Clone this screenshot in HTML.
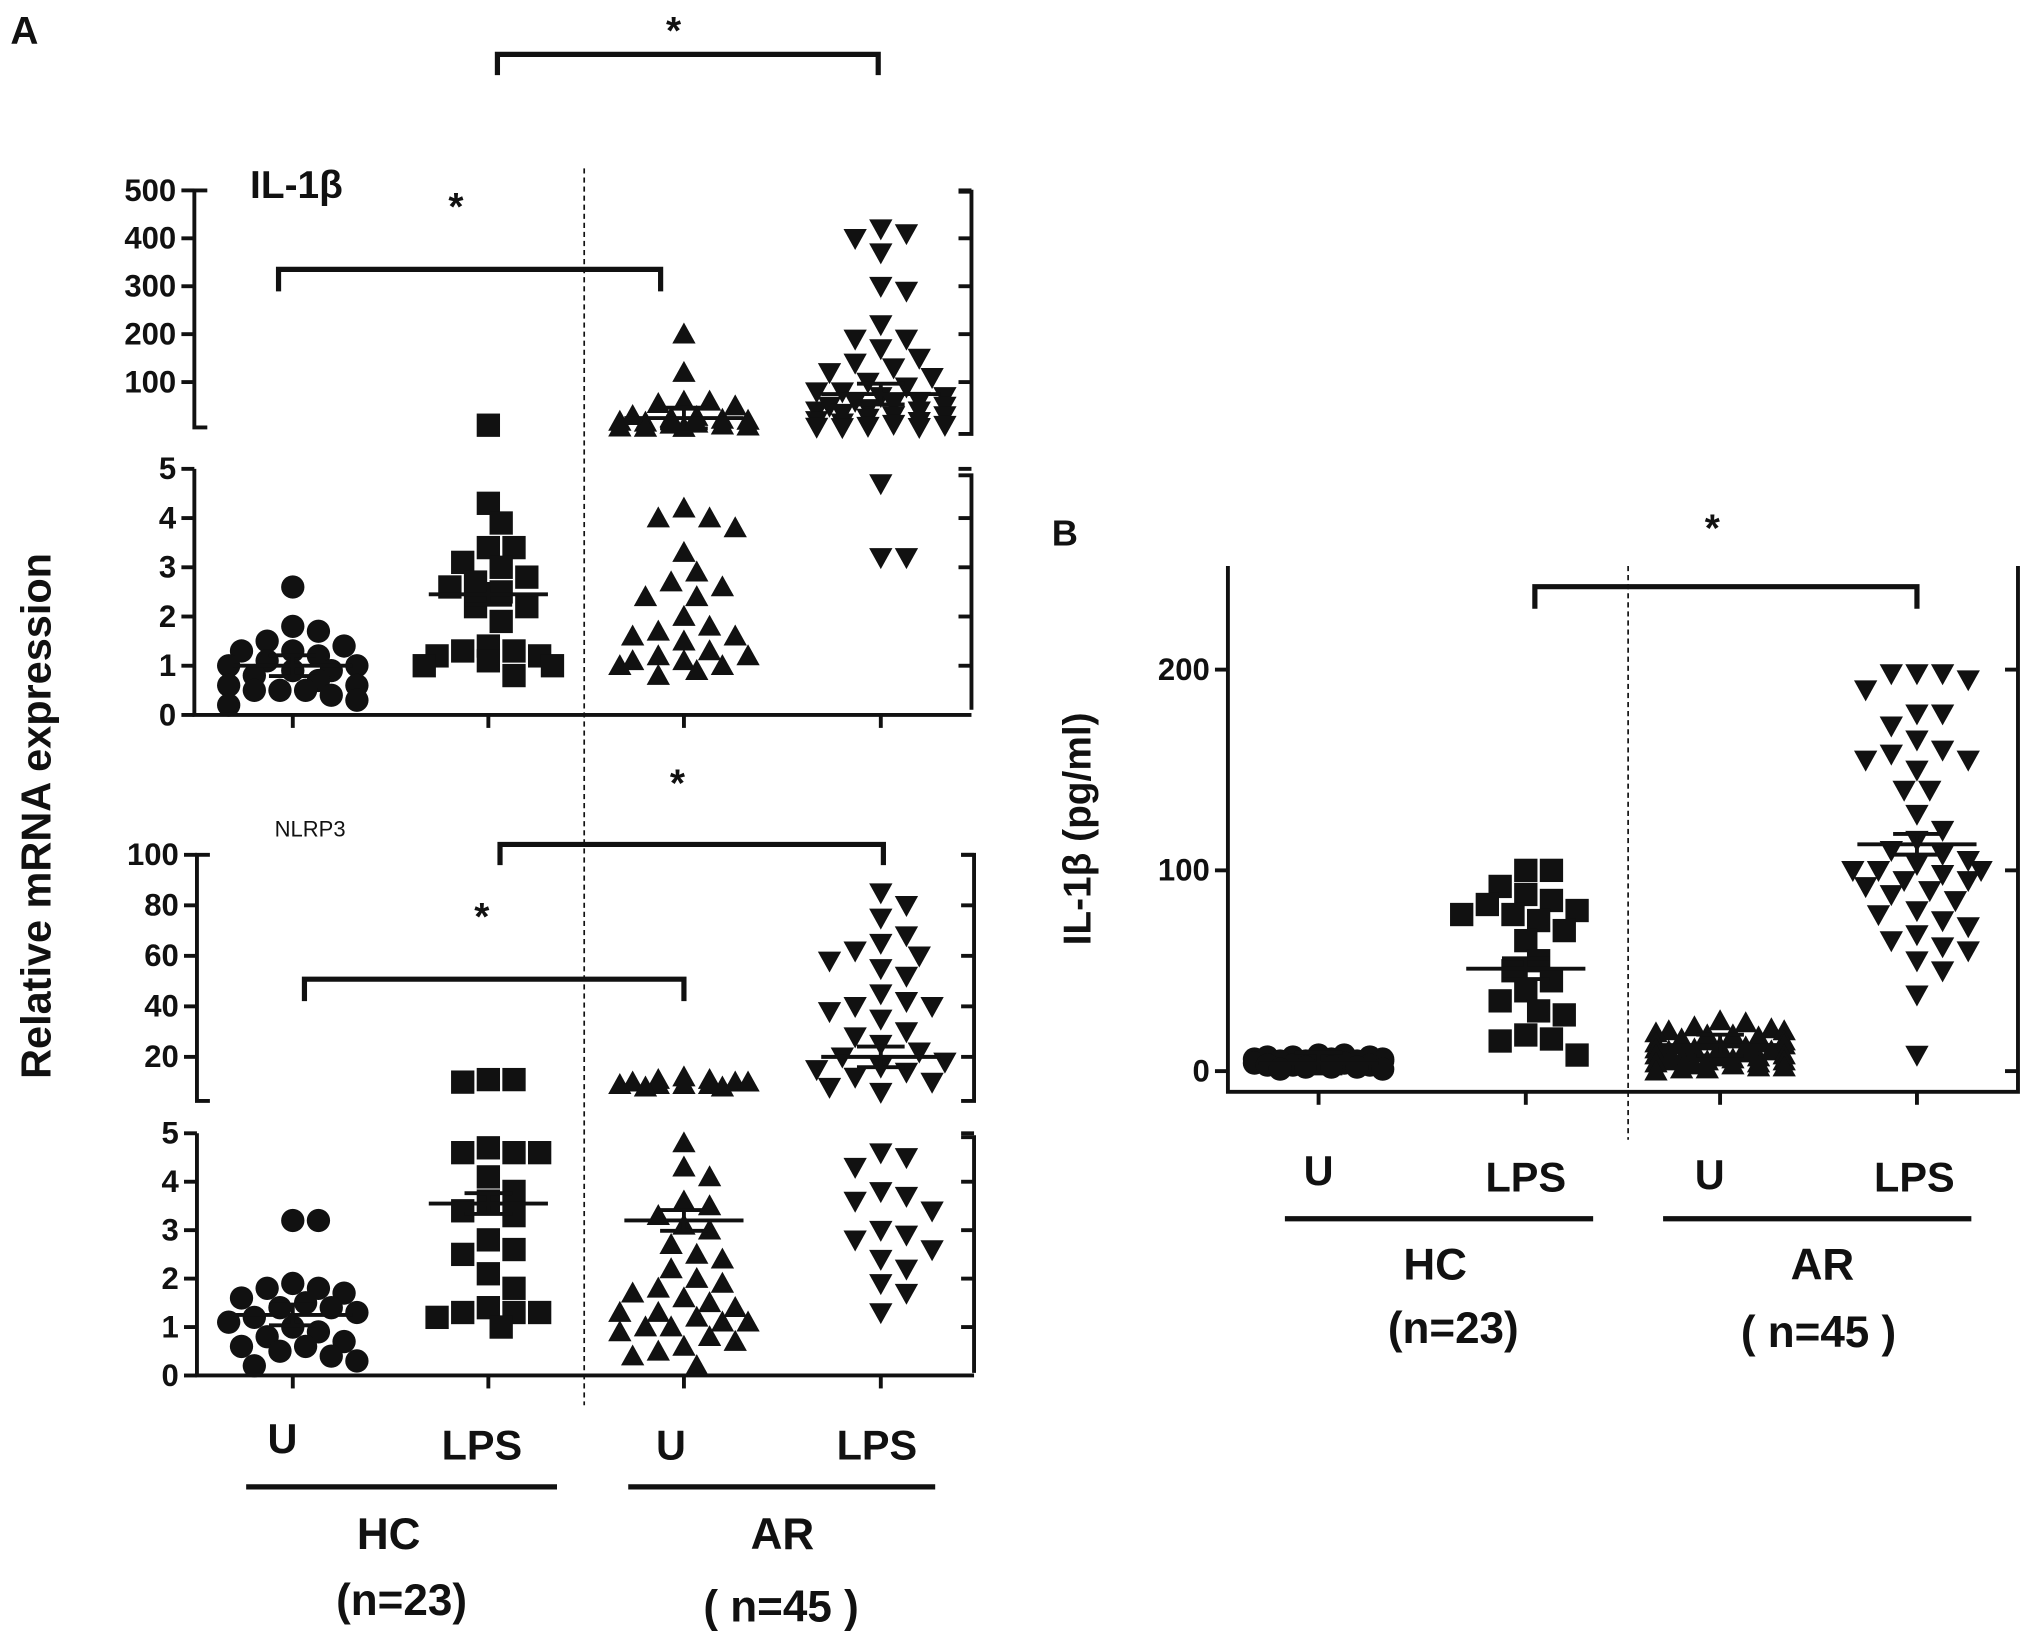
<!DOCTYPE html>
<html><head><meta charset="utf-8"><style>
html,body{margin:0;padding:0;background:#fff}
svg{display:block}
text{font-family:"Liberation Sans",sans-serif;font-weight:bold;fill:#111}
</style></head><body>
<svg id="fig" width="2031" height="1641" viewBox="0 0 1568 1267" xmlns="http://www.w3.org/2000/svg">
<g id="static" stroke="#111" fill="none" stroke-width="3">
  <path d="M160,147 H150 V330 H160"/>
  <path d="M150,362 V552 H750"/>
  <path d="M740,148 H750 V335 H740"/>
  <path d="M740,367 H750 V548"/>
  <path d="M162,660 H152 V850 H162"/>
  <path d="M152,875 V1062 H752"/>
  <path d="M742,660 H752 V850 H742"/>
  <path d="M742,878 H752 V1060"/>
  <path d="M948,437 V843 H1558 V437"/>
  <g stroke-width="4">
  <path d="M384,58 V42 H678 V58"/>
  <path d="M215,225 V208 H510 V225"/>
  <path d="M386,668 V652 H682 V668"/>
  <path d="M235,773 V756 H528 V773"/>
  <path d="M1185,470 V453 H1480 V470"/>
  </g>
  <path d="M190,1148 H430" stroke-width="4"/>
  <path d="M485,1148 H722" stroke-width="4"/>
  <path d="M992,941 H1230" stroke-width="4"/>
  <path d="M1284,941 H1522" stroke-width="4"/>
  <path d="M451,130 V1085" stroke-width="1.3" stroke-dasharray="4,3"/>
  <path d="M1257,437 V880" stroke-width="1.3" stroke-dasharray="4,3"/>
</g>
<g id="ticks" stroke="#111" stroke-width="3"></g>
<g id="labels"></g>
<g id="marks" fill="#111" stroke="none"></g>
<g id="texts">
  <text x="8" y="34" font-size="30">A</text>
  <text x="812" y="421" font-size="28">B</text>
  <text x="193" y="153" font-size="30">IL-1β</text>
  <text x="212" y="646" font-size="17" style="font-weight:normal">NLRP3</text>
  <text x="520" y="34" font-size="30" text-anchor="middle">*</text>
  <text x="352" y="170" font-size="30" text-anchor="middle">*</text>
  <text x="523" y="615" font-size="30" text-anchor="middle">*</text>
  <text x="372" y="718" font-size="30" text-anchor="middle">*</text>
  <text x="1322" y="418" font-size="30" text-anchor="middle">*</text>
  <text transform="translate(39,630) rotate(-90)" font-size="32" text-anchor="middle">Relative mRNA expression</text>
  <text transform="translate(842,640) rotate(-90)" font-size="30" text-anchor="middle">IL-1β  (pg/ml)</text>
  <text x="218" y="1122" font-size="32" text-anchor="middle">U</text>
  <text x="372" y="1127" font-size="32" text-anchor="middle">LPS</text>
  <text x="518" y="1127" font-size="32" text-anchor="middle">U</text>
  <text x="677" y="1127" font-size="32" text-anchor="middle">LPS</text>
  <text x="300" y="1196" font-size="34" text-anchor="middle">HC</text>
  <text x="310" y="1247" font-size="34" text-anchor="middle">(n=23)</text>
  <text x="604" y="1196" font-size="34" text-anchor="middle">AR</text>
  <text x="603" y="1252" font-size="34" text-anchor="middle">( n=45 )</text>
  <text x="1018" y="915" font-size="32" text-anchor="middle">U</text>
  <text x="1178" y="920" font-size="32" text-anchor="middle">LPS</text>
  <text x="1320" y="918" font-size="32" text-anchor="middle">U</text>
  <text x="1478" y="920" font-size="32" text-anchor="middle">LPS</text>
  <text x="1108" y="988" font-size="34" text-anchor="middle">HC</text>
  <text x="1122" y="1037" font-size="34" text-anchor="middle">(n=23)</text>
  <text x="1407" y="988" font-size="34" text-anchor="middle">AR</text>
  <text x="1404" y="1040" font-size="34" text-anchor="middle">( n=45 )</text>
</g>
</svg>
<script>
// ---- data ----
const groups = ["HC-U","HC-LPS","AR-U","AR-LPS"];
const il1bHcU = [2.6,1.8,1.7,1.5,1.4,1.3,1.3,1.2,1.1,1.0,1.0,0.9,0.9,0.8,0.7,0.6,0.6,0.5,0.5,0.5,0.4,0.3,0.2];
const il1bHcLps = [10,4.3,3.9,3.4,3.4,3.1,3.0,2.8,2.7,2.6,2.5,2.2,2.2,1.9,1.4,1.3,1.3,1.2,1.2,1.1,1.0,1.0,0.8];
const il1bArU = [200,120,60,60,55,50,30,28,25,22,20,18,16,14,12,10,8,6,5.5,5.2,4.2,4.0,4.0,3.8,3.3,2.9,2.7,2.6,2.4,2.4,2.0,1.8,1.7,1.6,1.6,1.5,1.3,1.2,1.2,1.1,1.1,1.0,1.0,0.9,0.8];
const il1bArLps = [420,410,400,370,300,290,220,190,190,170,150,140,130,120,110,100,90,80,80,70,60,60,55,50,45,40,40,35,30,30,25,20,18,15,12,10,8,6,5.5,5.2,4.7,3.2,3.2,50,70];
const il1bMeans = [1.0,2.45,25,75];
const nlrpHcU = [3.2,3.2,1.9,1.8,1.8,1.7,1.6,1.5,1.4,1.4,1.3,1.2,1.1,1.0,0.9,0.8,0.7,0.6,0.6,0.5,0.4,0.3,0.2];
const nlrpHcLps = [11,11,10,4.7,4.6,4.6,4.6,4.1,3.8,3.6,3.4,3.3,2.8,2.6,2.5,2.1,1.8,1.4,1.3,1.3,1.3,1.0,1.2];
const nlrpArU = [12,11,11,10,10,10,9,9,9,9,8,8,4.8,4.3,4.1,3.6,3.5,3.3,3.1,3.0,2.7,2.5,2.4,2.2,2.0,1.9,1.8,1.7,1.6,1.5,1.4,1.3,1.3,1.2,1.1,1.1,1.0,1.0,0.9,0.8,0.7,0.6,0.5,0.4,0.2];
const nlrpArLps = [85,80,75,68,65,62,60,58,55,52,45,42,40,40,38,35,30,28,25,22,20,18,16,15,14,12,10,8,4.6,4.5,4.3,3.8,3.7,3.6,3.4,3.0,2.9,2.8,2.6,2.4,2.2,1.9,1.7,1.3,6];
const nlrpMeans = [1.25,3.55,3.2,20];
const bHcU = [8,8,7,7,7,6,6,6,5,5,5,5,4,4,4,3,3,3,2,2,2,1,1];
const bHcLps = [100,100,92,88,85,83,80,78,78,75,70,65,55,50,45,40,35,30,28,18,16,15,8];
const bArU = [25,24,22,21,20,20,19,18,18,17,16,16,15,15,14,14,13,13,12,12,11,11,10,10,10,9,9,8,8,7,7,6,6,5,5,5,4,4,3,3,2,2,1,1,0];
const bArLps = [198,198,198,195,190,178,178,172,165,160,158,155,155,150,140,140,128,120,115,110,108,105,103,100,100,98,95,95,92,90,88,85,80,78,75,72,68,65,62,60,55,50,38,8,100];
const bMeans = [4,51,13,113];
const upperTicksA = [100,200,300,400,500];
const lowerTicks = [0,1,2,3,4,5];
const upperTicksN = [20,40,60,80,100];
const ticksB = [0,100,200];

function yIl1b(v){ return v>5 ? 332 - v*0.37 : 552 - v*38; }
function yNlrp(v){ return v>5 ? 855 - v*1.95 : 1062 - v*37.4; }
function yB(v){ return 827 - v*1.55; }
const xA = [226,377,528,680];
const xB = [1018,1178,1328,1480];
const NS="http://www.w3.org/2000/svg";
const marks=document.getElementById('marks'), tickG=document.getElementById('ticks'), labG=document.getElementById('labels');
function mk(tag,attrs,parent){const e=document.createElementNS(NS,tag);for(const k in attrs)e.setAttribute(k,attrs[k]);parent.appendChild(e);return e;}

function marker(shape,x,y,s){
  let e; const h=s/2;
  if(shape==='circle') e=mk('circle',{cx:x,cy:y,r:h},marks);
  else if(shape==='square') e=mk('rect',{x:x-h,y:y-h,width:s,height:s},marks);
  else if(shape==='up') e=mk('polygon',{points:`${x},${y-h} ${x-h},${y+h*0.8} ${x+h},${y+h*0.8}`},marks);
  else e=mk('polygon',{points:`${x},${y+h} ${x-h},${y-h*0.8} ${x+h},${y-h*0.8}`},marks);
  return e;
}
function swarm(vals,cx,yfn,shape,s,name){
  const placed=[];
  const maxW=52, step=s*0.55;
  const sorted=vals.slice().sort((a,b)=>b-a);
  sorted.forEach(v=>{
    const y=yfn(v);
    let best=0,bestScore=1e9;
    for(let k=0;k<40;k++){
      const off=(k===0?0:(k%2?1:-1)*Math.ceil(k/2))*step;
      if(Math.abs(off)>maxW) break;
      let score=0;
      placed.forEach(p=>{const d=Math.hypot(p.x-off,p.y-y); if(d<s*0.95) score+=(s*0.95-d);});
      if(score===0){best=off;bestScore=0;break;}
      if(score<bestScore){bestScore=score;best=off;}
    }
    placed.push({x:best,y});
    const e=marker(shape,cx+best,y,s);
    
    
  });
}
function meanBar(cx,y,w,name){
  const e=mk('path',{d:`M${cx-w},${y} H${cx+w} M${cx-w*0.4},${y-8} H${cx+w*0.4} M${cx-w*0.4},${y+8} H${cx+w*0.4} M${cx},${y-8} V${y+8}`,stroke:'#111','stroke-width':3,fill:'none'},marks);
  
  
}
function tick(x1,y,x2){mk('path',{d:`M${x1},${y} H${x2}`},tickG);}
function label(x,y,t,size){const e=mk('text',{x:x,y:y+8,'font-size':size,'text-anchor':'end'},labG);e.textContent=t;
  
  }

upperTicksA.forEach(v=>{const y=yIl1b(v);tick(140,y,150);tick(740,y,750);label(136,y,v,24);});
lowerTicks.forEach(v=>{const y=yIl1b(v);tick(140,y,150);if(v>0)tick(740,y,750);label(136,y,v,24);});
upperTicksN.forEach(v=>{const y=yNlrp(v);tick(142,y,152);tick(742,y,752);label(138,y,v,24);});
lowerTicks.forEach(v=>{const y=yNlrp(v);tick(142,y,152);if(v>0)tick(742,y,752);label(138,y,v,24);});
ticksB.forEach(v=>{const y=yB(v);tick(938,y,948);tick(1548,y,1558);label(934,y,v,24);});
xA.forEach(x=>{mk('path',{d:`M${x},552 V562`},tickG);mk('path',{d:`M${x},1062 V1072`},tickG);});
xB.forEach(x=>{mk('path',{d:`M${x},843 V853`},tickG);});

const shapes=['circle','square','up','down'];
[il1bHcU,il1bHcLps,il1bArU,il1bArLps].forEach((d,i)=>swarm(d,xA[i],yIl1b,shapes[i],18,'il1b-point-'+groups[i].toLowerCase()));
il1bMeans.forEach((m,i)=>meanBar(xA[i],yIl1b(m),46,'il1b-mean-'+groups[i].toLowerCase()));
[nlrpHcU,nlrpHcLps,nlrpArU,nlrpArLps].forEach((d,i)=>swarm(d,xA[i],yNlrp,shapes[i],18,'nlrp3-point-'+groups[i].toLowerCase()));
nlrpMeans.forEach((m,i)=>meanBar(xA[i],yNlrp(m),46,'nlrp3-mean-'+groups[i].toLowerCase()));
[bHcU,bHcLps,bArU,bArLps].forEach((d,i)=>swarm(d,xB[i],yB,shapes[i],18,'b-point-'+groups[i].toLowerCase()));
bMeans.forEach((m,i)=>meanBar(xB[i],yB(m),46,'b-mean-'+groups[i].toLowerCase()));
</script>
</body></html>
